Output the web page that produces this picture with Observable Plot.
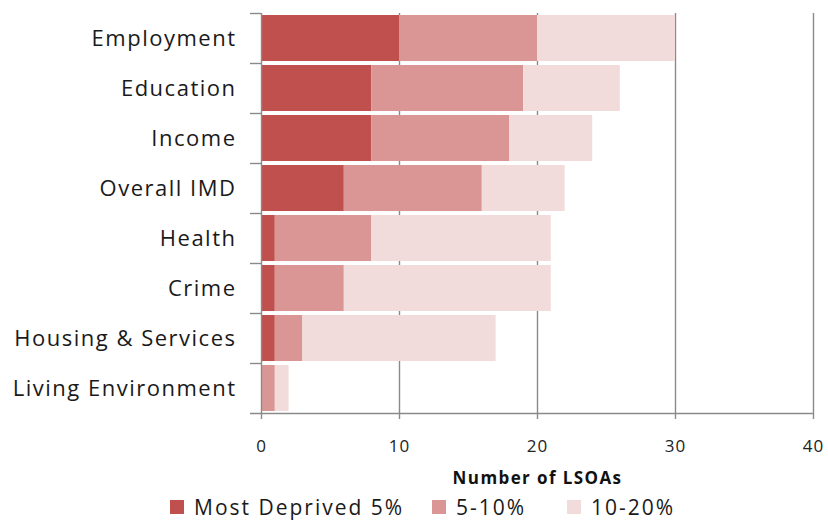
<!DOCTYPE html>
<html><head><meta charset="utf-8">
<script src="https://cdn.jsdelivr.net/npm/d3@7"></script>
<script src="https://cdn.jsdelivr.net/npm/@observablehq/plot@0.6"></script>
<style>
body{margin:0;background:#fff;font-family:"Open Sans",sans-serif;}
#legend{position:relative;height:30px;font-size:21px;color:#1a1a1a;letter-spacing:2px;}
#legend span.sw{display:inline-block;width:14px;height:14px;margin-right:10px;}
#legend .item{position:absolute;top:0;display:flex;align-items:center;height:30px;}
</style></head>
<body><div id="chart"></div>
<div id="legend"></div>
<script>
const categories = ["Employment","Education","Income","Overall IMD","Health","Crime","Housing & Services","Living Environment"];
const mostDeprived5 = [10,8,8,6,1,1,1,0];
const dep5to10 = [10,11,10,10,7,5,2,1];
const dep10to20 = [10,7,6,6,13,15,14,1];
const seriesNames = ["Most Deprived 5%","5-10%","10-20%"];
const seriesColors = ["#C0504D","#D99694","#F2DCDB"];
const xTicks = [0,10,20,30,40];

const rows = [];
categories.forEach((c,i)=>{
  [mostDeprived5,dep5to10,dep10to20].forEach((arr,j)=>{
    rows.push({category:c, series:seriesNames[j], value:arr[i], order:j});
  });
});

const plot = Plot.plot({
  width: 828,
  height: 492,
  marginLeft: 261,
  marginRight: 15,
  marginTop: 13,
  marginBottom: 79,
  style:{fontFamily:"'Open Sans', sans-serif", background:"#fff"},
  x:{domain:[0,40], ticks:xTicks},
  y:{domain:categories, paddingInner:0.08, paddingOuter:0.04},
  color:{domain:seriesNames, range:seriesColors},
  marks:[
    Plot.ruleX(xTicks.slice(1), {stroke:"#8a8a8a", strokeWidth:1.4}),
    Plot.barX(rows, Plot.stackX({x:"value", y:"category", fill:"series", order:"order"})),
    Plot.ruleX([0], {stroke:"#8a8a8a", strokeWidth:1.4}),
    Plot.ruleY([categories[categories.length-1]], {y:d=>d, x1:-0.8, x2:40, dy:25, stroke:"#8a8a8a", strokeWidth:1.4}),
    Plot.ruleY(categories, {y:d=>d, x1:-0.8, x2:0, dy:-25, stroke:"#8a8a8a", strokeWidth:1.4}),
    Plot.axisX({ticks:xTicks, tickSize:6, tickPadding:20, stroke:"#8a8a8a", strokeWidth:1.4, fontSize:17, color:"#222", tickFormat:d=>d,
      label:"Number of LSOAs", labelAnchor:"center", labelArrow:"none", labelOffset:70}),
    Plot.axisY({tickSize:0, tickPadding:25, fontSize:22, color:"#1a1a1a", label:null})
  ]
});
document.getElementById("chart").appendChild(plot);
d3.select(plot).selectAll("g[aria-label='x-axis label'] text").style("font-weight","bold").style("font-size","17px").style("letter-spacing","1.4px").attr("fill","#111");
d3.select(plot).selectAll("g[aria-label='y-axis tick label'] text").style("letter-spacing","1.5px");
d3.select(plot).selectAll("g[aria-label='x-axis tick label'] text").style("letter-spacing","1px");

const lg = document.getElementById("legend");
const legendX = [170, 432, 567];
seriesNames.forEach((n,i)=>{
  const it = document.createElement("div"); it.className="item"; it.style.left = legendX[i]+"px";
  const sw = document.createElement("span"); sw.className="sw"; sw.style.background=seriesColors[i];
  it.appendChild(sw); it.appendChild(document.createTextNode(n));
  lg.appendChild(it);
});
</script></body></html>
